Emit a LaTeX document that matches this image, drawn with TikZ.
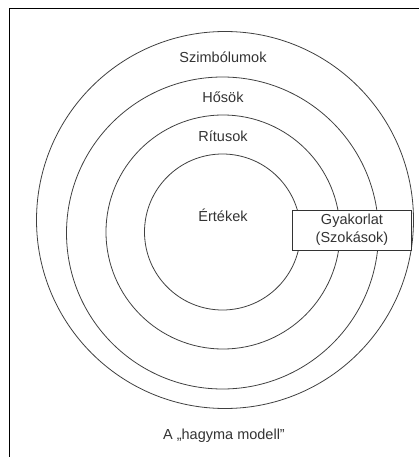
\documentclass[tikz,border=0pt]{standalone}
\usepackage{fontspec}
\setmainfont{Liberation Sans}
\begin{document}
\begin{tikzpicture}[
    x=1pt, y=-1pt,
    layer/.style={circle, draw=black!75, line width=0.8pt, minimum size=#1, inner sep=0pt},
    ringtext/.style={anchor=base, font=\fontsize{14.5}{18}\selectfont, text=black!80},
    practice/.style={rectangle, draw=black!80, fill=white, line width=0.8pt, minimum width=119pt, minimum height=40pt, align=center, inner sep=0pt, font=\fontsize{14.5}{18}\selectfont, text=black!80},
]
\useasboundingbox (0,0) rectangle (419,457);
% frame
\draw[line width=1.8pt] (9.5,470) -- (9.5,8.5) -- (430,8.5);
% the layers
\node[layer=377pt] (symbols) at (225,220) {};
\node[layer=312pt] (heroes) at (222.5,233) {};
\node[layer=234pt] (rituals) at (223,232) {};
\node[layer=156pt] (values) at (222.5,232) {};
% layer names
\node[ringtext] (tsymbols) at (223,63) {Szimbólumok};
\node[ringtext] (theroes) at (223,103) {Hősök};
\node[ringtext] (trituals) at (223,142) {Rítusok};
\node[ringtext] (tvalues) at (223,221) {Értékek};
% practices cut through the rings
\node[practice] (practices) at (352,230) {Gyakorlat\\(Szokások)};
\node[ringtext] (title) at (224,439) {A „hagyma modell"};
\end{tikzpicture}
\end{document}
